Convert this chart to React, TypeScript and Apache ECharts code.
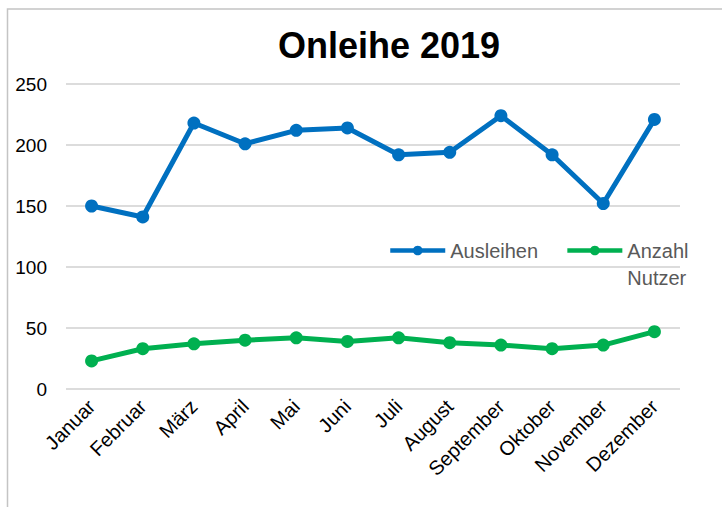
import React, { useEffect, useRef } from "react";
import * as echarts from "echarts";

const title = "Onleihe 2019";
const categories = ["Januar", "Februar", "März", "April", "Mai", "Juni", "Juli", "August", "September", "Oktober", "November", "Dezember"];
const ausleihen = [150, 141, 218, 201, 212, 214, 192, 194, 224, 192, 152, 221];
const nutzer = [23, 33, 37, 40, 42, 39, 42, 38, 36, 33, 36, 47];
const seriesNames = ["Ausleihen", "Anzahl Nutzer"];

export default function App() {
  const ref = useRef<HTMLDivElement>(null);
  useEffect(() => {
    if (!ref.current) return;
    const chart = echarts.init(ref.current, undefined, { renderer: "svg" });
    const font = "'Liberation Sans', Arial, sans-serif";
    chart.setOption({
      animation: false,
      backgroundColor: "#ffffff",
      textStyle: { fontFamily: font },
      title: {
        text: title,
        left: 273,
        top: 22,
        textStyle: { fontSize: 36, fontWeight: "bold", color: "#000000", fontFamily: font },
      },
      graphic: [
        {
          type: "rect",
          shape: { x: 7.5, y: 9, width: 800, height: 600 },
          style: { fill: "none", stroke: "#c4c4c4", lineWidth: 1.5 },
          silent: true,
          z: -1,
        },
      ],
      legend: {
        left: 388,
        top: 210,
        padding: 0,
        itemWidth: 55,
        itemHeight: 12,
        itemGap: 27,
        lineStyle: { width: 4.5 },
        textStyle: { fontSize: 20, color: "#595959", fontFamily: font, lineHeight: 27 },
        data: [{ name: seriesNames[0] }, { name: seriesNames[1] }],
        formatter: (n: string) => (n === seriesNames[1] ? " \nAnzahl\nNutzer" : n),
      },
      grid: { left: 66, right: 42, top: 84, bottom: 118, containLabel: false },
      xAxis: {
        type: "category",
        data: categories,
        boundaryGap: true,
        axisLine: { show: false },
        axisTick: { show: false },
        axisLabel: { rotate: 45, fontSize: 20, color: "#000000", margin: 14, interval: 0, fontFamily: font },
      },
      yAxis: {
        type: "value",
        min: 0,
        max: 250,
        interval: 50,
        axisLine: { show: false },
        axisTick: { show: false },
        axisLabel: { fontSize: 19, color: "#000000", margin: 19, fontFamily: font },
        splitLine: { lineStyle: { color: "#d0d0d0", width: 1.5 } },
      },
      series: [
        {
          name: seriesNames[0],
          type: "line",
          data: ausleihen,
          symbol: "circle",
          symbolSize: 13,
          lineStyle: { color: "#0070C0", width: 5 },
          itemStyle: { color: "#0070C0" },
        },
        {
          name: seriesNames[1],
          type: "line",
          data: nutzer,
          symbol: "circle",
          symbolSize: 13,
          lineStyle: { color: "#00B050", width: 5 },
          itemStyle: { color: "#00B050" },
        },
      ],
    });
    return () => chart.dispose();
  }, []);
  return (
    <div style={{ position: "absolute", left: 0, top: 0, width: 722, height: 507 }}>
      <div ref={ref} style={{ width: 722, height: 507 }} />
    </div>
  );
}
